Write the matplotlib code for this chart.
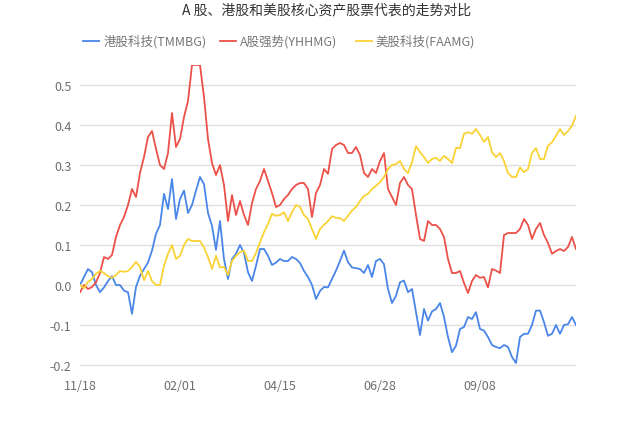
import numpy as np
import matplotlib
matplotlib.use('Agg')
import matplotlib.pyplot as plt
from matplotlib.lines import Line2D

plt.rcParams['font.family'] = ['Noto Sans CJK SC', 'DejaVu Sans']

# trading day index, every 2nd day
day = np.arange(0, 249, 2)

hk_tech = [0.0, 0.02, 0.04, 0.032, 0.0, -0.018, -0.006, 0.01, 0.022, 0.0, 0.0, -0.014, -0.018, -0.072, -0.005, 0.023,
           0.04, 0.056, 0.086, 0.128, 0.15, 0.228, 0.19, 0.265, 0.165, 0.215, 0.236, 0.18, 0.2, 0.236, 0.27, 0.252,
           0.18, 0.148, 0.088, 0.16, 0.065, 0.015, 0.065, 0.078, 0.10, 0.08, 0.032, 0.01, 0.048, 0.09, 0.09,
           0.073, 0.05, 0.056, 0.065, 0.06, 0.06, 0.07, 0.065, 0.055, 0.035, 0.02, 0.0, -0.035, -0.015, -0.005,
           -0.006, 0.015, 0.036, 0.06, 0.086, 0.057, 0.044, 0.042, 0.04, 0.03, 0.05, 0.02, 0.06, 0.065, 0.052, -0.01,
           -0.045, -0.027, 0.007, 0.011, -0.018, -0.01, -0.068, -0.125, -0.06, -0.089, -0.066, -0.06, -0.045, -0.08, -0.13, -0.168,
           -0.152, -0.11, -0.105, -0.08, -0.085, -0.068, -0.11, -0.114, -0.13, -0.15, -0.155, -0.158, -0.15, -0.155, -0.18, -0.195,
           -0.13, -0.122, -0.122, -0.10, -0.064, -0.064, -0.093, -0.127, -0.122, -0.10, -0.122, -0.10, -0.098, -0.08, -0.10]

a_strong = [-0.018, 0.0, -0.01, -0.005, 0.007, 0.03, 0.07, 0.065, 0.075, 0.12, 0.15, 0.17, 0.20, 0.24, 0.22, 0.28,
            0.32, 0.37, 0.385, 0.34, 0.30, 0.29, 0.33, 0.43, 0.345, 0.365, 0.42, 0.46, 0.55, 0.55, 0.55, 0.47,
            0.365, 0.305, 0.275, 0.30, 0.25, 0.16, 0.225, 0.175, 0.21, 0.175, 0.15, 0.205, 0.24, 0.26, 0.29,
            0.26, 0.23, 0.195, 0.20, 0.215, 0.225, 0.24, 0.25, 0.255, 0.255, 0.24, 0.17, 0.23, 0.25, 0.29,
            0.278, 0.34, 0.35, 0.355, 0.35, 0.33, 0.33, 0.345, 0.325, 0.28, 0.27, 0.29, 0.28, 0.31, 0.33, 0.24,
            0.22, 0.20, 0.255, 0.27, 0.25, 0.24, 0.175, 0.115, 0.11, 0.16, 0.15, 0.15, 0.14, 0.12, 0.065, 0.03,
            0.03, 0.035, 0.005, -0.02, 0.01, 0.025, 0.018, 0.02, -0.006, 0.04, 0.036, 0.03, 0.125, 0.13, 0.13, 0.13,
            0.14, 0.165, 0.15, 0.115, 0.14, 0.155, 0.125, 0.105, 0.078, 0.085, 0.09, 0.085, 0.095, 0.12, 0.09]

us_tech = [0.0, -0.008, 0.008, 0.015, 0.028, 0.035, 0.03, 0.022, 0.018, 0.025, 0.035, 0.033, 0.035, 0.045, 0.058, 0.045,
           0.012, 0.035, 0.01, 0.0, 0.0, 0.048, 0.078, 0.10, 0.065, 0.073, 0.10, 0.115, 0.11, 0.11, 0.11, 0.094,
           0.07, 0.04, 0.073, 0.044, 0.045, 0.025, 0.06, 0.073, 0.082, 0.086, 0.06, 0.06, 0.08, 0.107, 0.132,
           0.153, 0.178, 0.173, 0.175, 0.182, 0.16, 0.182, 0.2, 0.195, 0.175, 0.165, 0.14, 0.115, 0.14, 0.15,
           0.16, 0.172, 0.168, 0.167, 0.16, 0.173, 0.186, 0.195, 0.21, 0.223, 0.228, 0.24, 0.248, 0.257, 0.27, 0.29,
           0.30, 0.302, 0.31, 0.29, 0.28, 0.307, 0.347, 0.332, 0.32, 0.305, 0.315, 0.318, 0.31, 0.323, 0.315, 0.305,
           0.343, 0.342, 0.378, 0.382, 0.378, 0.39, 0.375, 0.358, 0.37, 0.332, 0.32, 0.33, 0.31, 0.28, 0.27, 0.27,
           0.294, 0.282, 0.29, 0.33, 0.342, 0.315, 0.315, 0.348, 0.357, 0.373, 0.39, 0.375, 0.385, 0.398, 0.423]

names = ['港股科技(TMMBG)', 'A股强势(YHHMG)', '美股科技(FAAMG)']
colors = ['#4a86e8', '#ec5149', '#f9d335']
date_labels = ['11/18', '02/01', '04/15', '06/28', '09/08']
date_idx = [0, 50, 100, 150, 200]
yticks = [-0.2, -0.1, 0.0, 0.1, 0.2, 0.3, 0.4, 0.5]

fig = plt.figure(figsize=(6.4, 4.27), dpi=100)
ax = fig.add_axes([0.125, 0.1288, 0.775, 0.7166])

for ys, c in zip([hk_tech, a_strong, us_tech], colors):
    ax.plot(day, ys, color=c, lw=1.3, solid_joinstyle='round')

ax.set_xlim(0, 248)
ax.set_ylim(-0.215, 0.55)
ax.set_yticks(yticks)
ax.set_yticklabels(['%.1f' % v for v in yticks])
ax.set_xticks(date_idx)
ax.set_xticklabels(date_labels)
ax.grid(axis='y', color='#e0e0e0', lw=1)
ax.set_axisbelow(True)
for s in ax.spines.values():
    s.set_visible(False)
ax.tick_params(length=0, colors='#6e6e6e', labelsize=9)
ax.tick_params(axis='y', pad=6)
ax.tick_params(axis='x', pad=6)

fig.text(0.511, 0.975, 'A 股、港股和美股核心资产股票代表的走势对比', ha='center', va='center',
         fontsize=10, color='#333333')

# legend drawn by hand
leg_x = [0.130, 0.344, 0.556]
for x, c, n in zip(leg_x, colors, names):
    fig.add_artist(Line2D([x, x + 0.025], [0.901, 0.901], color=c, lw=1.3))
    fig.text(x + 0.031, 0.901, n, ha='left', va='center', fontsize=9, color='#777777')

plt.savefig('out.png')
